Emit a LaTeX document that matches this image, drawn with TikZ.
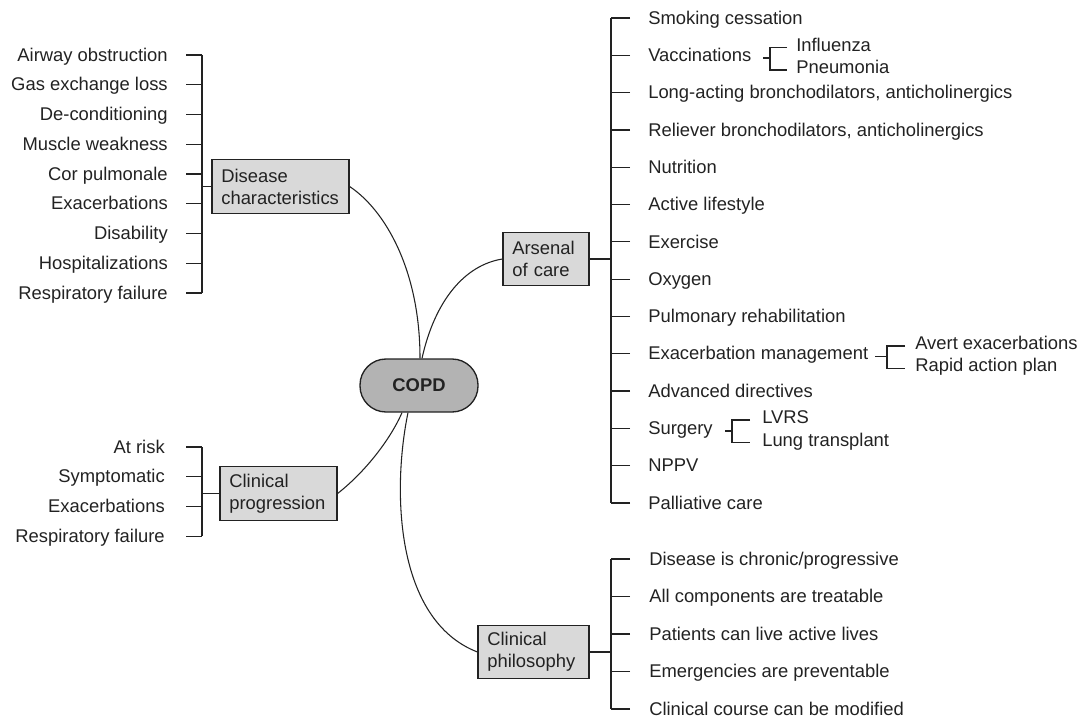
\documentclass[tikz,border=0pt]{standalone}
\usepackage{fontspec}
\setmainfont{Liberation Sans}
\usetikzlibrary{calc}
\definecolor{ink}{HTML}{222222}
\definecolor{boxfill}{HTML}{D9D9D9}
\definecolor{copdfill}{HTML}{B3B3B3}
\begin{document}
\begin{tikzpicture}[x=0.75pt,y=-0.75pt,
  every node/.style={text=ink, font=\fontsize{13.8}{16.5}\selectfont},
  itm/.style={inner sep=0pt},
  cat/.style={draw=ink, line width=0.9pt, fill=boxfill, align=left, inner xsep=7pt, inner ysep=0pt, minimum height=40pt},
  hub/.style={draw=ink, line width=1pt, fill=copdfill, rounded corners=19.5pt, minimum width=88.5pt, minimum height=39.75pt, font=\fontsize{13.8}{16.5}\selectfont\bfseries},
  br/.style={draw=ink, line width=0.9pt},
  link/.style={draw=ink, line width=0.8pt}]
\useasboundingbox (0,0) rectangle (1080,717);

% central node
\node[hub] (copd) at (419,385.5) {COPD};

% category boxes
\node[cat, text width=88.75pt] (dc) at (280.5,186.5) {Disease\\characteristics};
\node[cat, text width=50.5pt] (ar) at (546,259) {Arsenal\\of care};
\node[cat, text width=73.75pt] (cp) at (278.5,493.5) {Clinical\\progression};
\node[cat, text width=69.25pt] (ph) at (533.5,652) {Clinical\\philosophy};

% curved links
\draw[link] (dc.east) .. controls (385,210) and (420,270) .. ($(copd.north)+(1,0)$);
\draw[link] (ar.west) .. controls (465,265) and (435,300) .. ($(copd.north)+(3,0)$);
\draw[link] ($(copd.south)+(-17,0)$) .. controls (390,440) and (365,472) .. (cp.east);
\draw[link] ($(copd.south)+(-11,0)$) .. controls (392,490) and (395,620) .. (ph.west);

% Disease characteristics list
\foreach \t [count=\i from 0] in {Airway obstruction, Gas exchange loss, De-conditioning, Muscle weakness, Cor pulmonale, Exacerbations, Disability, Hospitalizations, Respiratory failure}
  \node[itm, anchor=mid east] (d\i) at (168,57.7+29.75*\i) {\t};
\foreach \i in {0,...,8}
  \draw[br] ($(d\i.mid east)+(18,-2.7)$) -- ++(16,0);
\draw[br] ($(d0.mid east)+(34,-2.7)$) -- ($(d8.mid east)+(34,-2.7)$);
\draw[br] (dc.west) -- ++(-10,0);

% Clinical progression list
\foreach \t [count=\i from 0] in {At risk, Symptomatic, Exacerbations, Respiratory failure}
  \node[itm, anchor=mid east] (p\i) at (165,449.7+29.7*\i) {\t};
\foreach \i in {0,...,3}
  \draw[br] ($(p\i.mid east)+(21,-2.7)$) -- ++(16,0);
\draw[br] ($(p0.mid east)+(37,-2.7)$) -- ($(p3.mid east)+(37,-2.7)$);
\draw[br] (cp.west) -- ++(-18,0);

% Arsenal of care list
\foreach \t [count=\i from 0] in {Smoking cessation, Vaccinations, {Long-acting bronchodilators, anticholinergics}, {Reliever bronchodilators, anticholinergics}, Nutrition, Active lifestyle, Exercise, Oxygen, Pulmonary rehabilitation, Exacerbation management, Advanced directives, Surgery, NPPV, Palliative care}
  \node[itm, anchor=mid west] (a\i) at (648,20.7+37.3*\i) {\t};
\foreach \i in {0,...,13}
  \draw[br] ($(a\i.mid west)+(-18,-2.7)$) -- ++(-19,0);
\draw[br] ($(a0.mid west)+(-37,-2.7)$) -- ($(a13.mid west)+(-37,-2.7)$);
\draw[br] (ar.east) -- ++(22,0);

% Vaccinations sub-items
\node[itm, anchor=mid west] (v1) at ($(a1.mid west)+(148,-10.5)$) {Influenza};
\node[itm, anchor=mid west] (v2) at ($(a1.mid west)+(148,12)$) {Pneumonia};
\draw[br] ($(v1.mid west)+(-9,0)$) -- ++(-17,0) |- ($(v2.mid west)+(-9,0)$);
\draw[br] ($(a1.mid west)+(122,0)$) -- ++(-7,0);

% Exacerbation management sub-items
\node[itm, anchor=mid west] (e1) at ($(a9.mid west)+(267,-10.5)$) {Avert exacerbations};
\node[itm, anchor=mid west] (e2) at ($(a9.mid west)+(267,12)$) {Rapid action plan};
\draw[br] ($(e1.mid west)+(-10,0)$) -- ++(-18,0) |- ($(e2.mid west)+(-10,0)$);
\draw[br] ($(a9.mid west)+(239,0)$) -- ++(-12,0);

% Surgery sub-items
\node[itm, anchor=mid west] (s1) at ($(a11.mid west)+(114,-11)$) {LVRS};
\node[itm, anchor=mid west] (s2) at ($(a11.mid west)+(114,11.5)$) {Lung transplant};
\draw[br] ($(s1.mid west)+(-12,0)$) -- ++(-18,0) |- ($(s2.mid west)+(-12,0)$);
\draw[br] ($(a11.mid west)+(84,0)$) -- ++(-7,0);

% Clinical philosophy list
\foreach \t [count=\i from 0] in {Disease is chronic/progressive, All components are treatable, Patients can live active lives, Emergencies are preventable, Clinical course can be modified}
  \node[itm, anchor=mid west] (h\i) at (649,561.7+37.5*\i) {\t};
\foreach \i in {0,...,4}
  \draw[br] ($(h\i.mid west)+(-19,-2.7)$) -- ++(-19,0);
\draw[br] ($(h0.mid west)+(-38,-2.7)$) -- ($(h4.mid west)+(-38,-2.7)$);
\draw[br] (ph.east) -- ++(22,0);
\end{tikzpicture}
\end{document}
